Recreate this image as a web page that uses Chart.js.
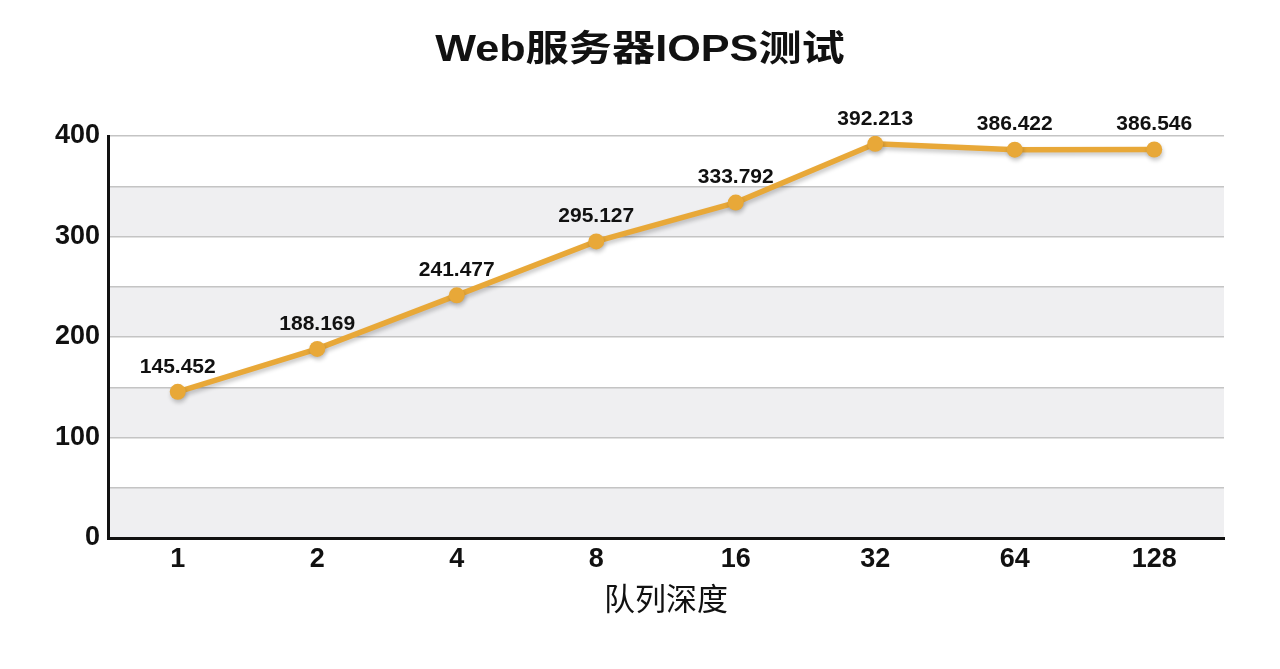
<!DOCTYPE html>
<html>
<head>
<meta charset="utf-8">
<script src="https://cdn.jsdelivr.net/npm/chart.js@4"></script>
<style>
  html, body { margin: 0; padding: 0; background: #fff; }
  #wrap { width: 1280px; height: 669px; }
</style>
</head>
<body>
<div id="wrap"><canvas id="chartIops"></canvas></div>
<script>
'use strict';

// ─── DATA ─────────────────────────────────────────────────────

const QUEUE_DEPTHS = ['1', '2', '4', '8', '16', '32', '64', '128'];
const IOPS_VALUES  = [145.452, 188.169, 241.477, 295.127, 333.792, 392.213, 386.422, 386.546];
const Y_BANDS      = [[0, 50], [100, 150], [200, 250], [300, 350]];

const CHART_TITLE = 'Web服务器IOPS测试';
const X_TITLE     = '队列深度';

const LINE_COLOR = '#E8A838';
const FONT_LATIN = "'Liberation Sans', Arial, 'Noto Sans CJK SC', sans-serif";

// ─── PLUGINS ──────────────────────────────────────────────────

// alternating grey bands behind the plot
const bandsPlugin = {
  id: 'bands',
  beforeDraw(chart) {
    const { ctx, chartArea: a, scales: { y } } = chart;
    ctx.save();
    ctx.fillStyle = '#EFEFF1';
    Y_BANDS.forEach(([lo, hi]) => {
      const top = y.getPixelForValue(hi);
      const bot = y.getPixelForValue(lo);
      ctx.fillRect(a.left, top, a.right - a.left, bot - top);
    });
    ctx.restore();
  }
};

// title, drawn a bit wide like the original
const wideTitle = {
  id: 'wideTitle',
  afterDraw(chart) {
    const ctx = chart.ctx;
    ctx.save();
    ctx.translate(chart.width / 2, 51);
    ctx.scale(1.2, 1);
    ctx.font = 'bold 36px ' + FONT_LATIN;
    ctx.fillStyle = '#111';
    ctx.textAlign = 'center';
    ctx.textBaseline = 'middle';
    ctx.fillText(CHART_TITLE, 0, 0);
    ctx.restore();
  }
};

// soft shadow under the line
const shadowPlugin = {
  id: 'lineShadow',
  beforeDatasetDraw(chart) {
    const ctx = chart.ctx;
    ctx.save();
    ctx.shadowColor = 'rgba(0,0,0,0.22)';
    ctx.shadowBlur = 4;
    ctx.shadowOffsetX = 1;
    ctx.shadowOffsetY = 3;
  },
  afterDatasetDraw(chart) {
    chart.ctx.restore();
  }
};

// value labels above each point
const valueLabels = {
  id: 'valueLabels',
  afterDatasetsDraw(chart) {
    const { ctx } = chart;
    const meta = chart.getDatasetMeta(0);
    ctx.save();
    ctx.font = 'bold 21px ' + FONT_LATIN;
    ctx.fillStyle = '#111';
    ctx.textAlign = 'center';
    ctx.textBaseline = 'middle';
    meta.data.forEach((pt, i) => {
      ctx.fillText(IOPS_VALUES[i].toFixed(3), pt.x, pt.y - 25);
    });
    ctx.restore();
  }
};

// ─── CHART ────────────────────────────────────────────────────

new Chart(document.getElementById('chartIops'), {
  type: 'line',
  data: {
    labels: QUEUE_DEPTHS,
    datasets: [{
      data: IOPS_VALUES,
      borderColor: LINE_COLOR,
      backgroundColor: LINE_COLOR,
      borderWidth: 5.5,
      pointBackgroundColor: LINE_COLOR,
      pointBorderWidth: 0,
      pointRadius: 8,
      tension: 0,
      fill: false
    }]
  },
  options: {
    responsive: true,
    maintainAspectRatio: false,
    animation: false,
    layout: { padding: { left: 0, right: 56, top: 136, bottom: 0 } },
    plugins: {
      legend: { display: false },
      tooltip: { enabled: false },
      title: { display: false }
    },
    scales: {
      x: {
        offset: true,
        afterFit: s => { s.height = 131; },
        border: { display: true, color: '#111', width: 3 },
        grid: { display: false },
        ticks: {
          color: '#111',
          padding: -3,
          font: { family: FONT_LATIN, size: 27, weight: 'bold' }
        },
        title: {
          display: true,
          text: X_TITLE,
          color: '#111',
          font: { family: "'Noto Sans CJK SC', sans-serif", size: 31, weight: 'normal', lineHeight: 1.2 },
          padding: { top: 0, bottom: 52 }
        }
      },
      y: {
        min: 0,
        max: 400,
        afterFit: s => { s.width = 108; },
        border: { display: true, color: '#111', width: 3 },
        grid: { color: '#C4C4C4', lineWidth: 1.5, drawTicks: false },
        ticks: {
          stepSize: 50,
          color: '#111',
          padding: 8,
          font: { family: FONT_LATIN, size: 27, weight: 'bold' },
          callback: v => (v % 100 === 0 ? v : '')
        }
      }
    }
  },
  plugins: [bandsPlugin, shadowPlugin, valueLabels, wideTitle]
});
</script>
</body>
</html>
